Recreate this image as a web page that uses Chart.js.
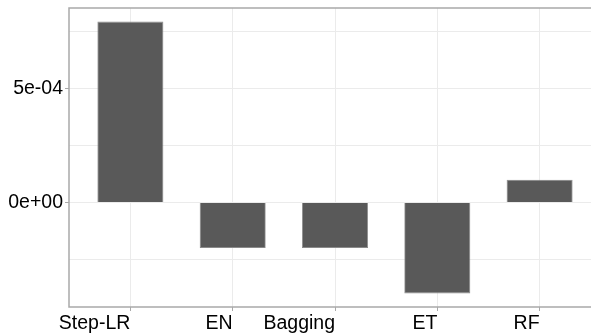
<!DOCTYPE html>
<html>
<head>
<meta charset="utf-8">
<script src="https://cdn.jsdelivr.net/npm/chart.js@4/dist/chart.umd.min.js"></script>
<style>
  html, body { margin: 0; padding: 0; background: #fff; overflow: hidden; }
  /* panel runs past the right edge of the window, like the cropped original */
  #wrap { width: 601px; height: 333px; }
</style>
</head>
<body>
<div id="wrap"><canvas id="chart"></canvas></div>
<script>
const categories = ['Step-LR', 'EN', 'Bagging', 'ET', 'RF'];
const values = [7.95e-4, -2.0e-4, -2.0e-4, -4.0e-4, 1.0e-4];
const yTickValues = [-2.5e-4, 0, 2.5e-4, 5e-4, 7.5e-4];
const yTickLabels = ['', '0e+00', '', '5e-04', ''];

// ggplot style 5% expansion of the data range
const lo = Math.min(...values), hi = Math.max(...values);
const expand = (hi - lo) * 0.05;

const font = { family: 'Liberation Sans, Arial, sans-serif', size: 19.5 };

const panelBorder = {
  id: 'panelBorder',
  afterDraw(chart) {
    const { ctx, chartArea: a } = chart;
    ctx.save();
    ctx.strokeStyle = '#a9a9a9';
    ctx.lineWidth = 1.5;
    ctx.strokeRect(a.left, a.top, a.right - a.left, a.bottom - a.top);
    ctx.restore();
  }
};

new Chart(document.getElementById('chart'), {
  type: 'bar',
  data: {
    datasets: [{
      data: values.map((v, i) => ({ x: i + 1, y: v })),
      backgroundColor: '#595959',
      borderColor: '#8a8a8a',
      borderWidth: 0.8,
      categoryPercentage: 1,
      barPercentage: 0.645
    }]
  },
  options: {
    responsive: true,
    maintainAspectRatio: false,
    animation: false,
    layout: { padding: { top: 8, left: 0, right: 0, bottom: 0 } },
    plugins: { legend: { display: false }, tooltip: { enabled: false } },
    scales: {
      x: {
        type: 'linear',
        min: 0.4,
        max: categories.length + 0.6,
        offset: false,
        afterBuildTicks: s => { s.ticks = categories.map((c, i) => ({ value: i + 1 })); },
        afterFit: s => { s.height = 26; s.paddingLeft = 0; s.paddingRight = 0; },
        grid: { offset: false, color: '#ebebeb', lineWidth: 1, tickLength: 4, tickColor: '#a9a9a9' },
        border: { display: false },
        ticks: {
          font: font,
          color: '#000',
          align: 'end',
          padding: 1,
          maxRotation: 0,
          autoSkip: false,
          callback: (v, i) => categories[i]
        }
      },
      y: {
        min: lo - expand,
        max: hi + expand,
        afterBuildTicks: s => { s.ticks = yTickValues.map(v => ({ value: v })); },
        afterFit: s => { s.width = 69; s.paddingTop = 0; s.paddingBottom = 0; },
        grid: {
          color: '#ebebeb',
          lineWidth: 1,
          tickLength: 4,
          tickColor: ctx => yTickLabels[ctx.index] ? '#a9a9a9' : 'rgba(0,0,0,0)'
        },
        border: { display: false },
        ticks: {
          font: font,
          color: '#000',
          padding: 2,
          autoSkip: false,
          callback: (v, i) => yTickLabels[i]
        }
      }
    }
  },
  plugins: [panelBorder]
});
</script>
</body>
</html>
